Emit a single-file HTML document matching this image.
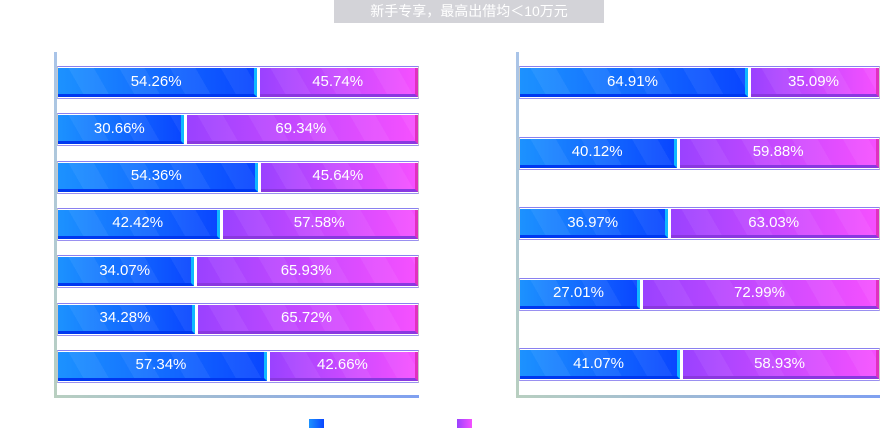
<!DOCTYPE html>
<html><head><meta charset="utf-8">
<style>
body{margin:0;background:#fff;width:880px;height:433px;overflow:hidden;position:relative;font-family:"Liberation Sans","Noto Sans CJK SC",sans-serif}
.title{position:absolute;left:334px;top:0;width:270px;height:23px;background:#d3d3d8;color:#fff;font-size:14px;line-height:23px;text-align:center}
.axisv{position:absolute;width:3px;background:linear-gradient(#a9c4e8,#b8cfc0)}
.axish{position:absolute;height:3px;background:linear-gradient(90deg,#b8cfc0,#7fa0f0)}
.box{position:absolute;box-sizing:border-box;border:1px solid #c8c8c8;border-top:1px solid #8a80f0;border-bottom:1px solid #9a90f0}
.seg{position:absolute;top:1px;bottom:1px;color:#fff;font-size:15px;display:flex;align-items:center;justify-content:center;box-sizing:border-box}
.b{background:repeating-linear-gradient(60deg,rgba(255,255,255,0) 0 22px,rgba(255,255,255,.06) 22px 44px),linear-gradient(90deg,#1c92ff,#0a46ff);border-right:3px solid #10b8ff;border-bottom:3px solid #0038f0}
.p{background:repeating-linear-gradient(60deg,rgba(255,255,255,0) 0 22px,rgba(255,255,255,.06) 22px 44px),linear-gradient(90deg,#9a42ff,#f550ff);border-right:3px solid #e030c0;border-bottom:3px solid #8a38e0}
.leg{position:absolute;top:419px;width:15px;height:9px}
</style></head><body>
<div class="title">新手专享，最高出借均＜10万元</div>
<div class="axisv" style="left:54px;top:52px;height:346px"></div>
<div class="axish" style="left:54px;top:395px;width:365px"></div>
<div class="axisv" style="left:516px;top:52px;height:346px"></div>
<div class="axish" style="left:516px;top:395px;width:364px"></div>
<div class="leg" style="left:309px;background:linear-gradient(90deg,#1c92ff,#0a46ff)"></div>
<div class="leg" style="left:457px;background:linear-gradient(90deg,#9a42ff,#f550ff)"></div>
<script>
const leftBlue=[54.26,30.66,54.36,42.42,34.07,34.28,57.34];
const leftPurple=[45.74,69.34,45.64,57.58,65.93,65.72,42.66];
const rightBlue=[64.91,40.12,36.97,27.01,41.07];
const rightPurple=[35.09,59.88,63.03,72.99,58.93];
function panel(name,blue,purple,x0,x1,y0,pitch,off,scale){
  blue.forEach((v,i)=>{
    const box=document.createElement('div');
    box.className='box';
    
    
    const y=y0+i*pitch;
    box.style.cssText=`left:${x0}px;top:${y}px;width:${x1-x0}px;height:33px`;
    const split=off+scale*v-x0;
    const b=document.createElement('div');
    b.className='seg b';
    
    
    b.style.left='0px';b.style.width=(split-1)+'px';
    b.textContent=v.toFixed(2)+'%';
    const p=document.createElement('div');
    p.className='seg p';
    
    
    p.style.left=(split+2)+'px';p.style.right='0px';
    p.textContent=purple[i].toFixed(2)+'%';
    box.appendChild(b);box.appendChild(p);
    document.body.appendChild(box);
  });
}
panel('left',leftBlue,leftPurple,57,419,66,47.3,88,3.12);
panel('right',rightBlue,rightPurple,519,880,66,70.5,563,2.85);
</script>
</body></html>
